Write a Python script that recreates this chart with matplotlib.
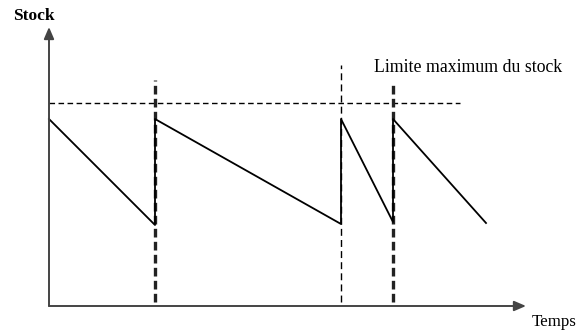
"""Stock sawtooth diagram: stock level over time with a maximum limit."""
import matplotlib
matplotlib.use("Agg")
import matplotlib.pyplot as plt

# restock instants and the stock level before each restock (arbitrary units)
restock_times = [0, 10.6, 29.2, 34.4]
end_time = 43.7
stock_full = 18.7
stock_low = [8.1, 8.2, 8.4, 8.3]

# maximum stock limit
stock_limit = 20.3
limit_end = 41.1

# delivery markers (vertical dashed lines): time, top, heavy?
marker_times = [10.6, 29.2, 34.4]
marker_tops = [22.6, 24.1, 22.5]
marker_heavy = [True, False, True]

# build the sawtooth from the arrays
ends = restock_times[1:] + [end_time]
xs, ys = [], []
for t0, t1, low in zip(restock_times, ends, stock_low):
    xs += [t0, t1]
    ys += [stock_full, low]

fig = plt.figure(figsize=(5.78, 3.34), dpi=100)
ax = fig.add_axes([0, 0, 1, 1])
ax.set_xlim(-4.9, 52.9)
ax.set_ylim(-2.8, 30.6)
ax.axis("off")

serif = ["Liberation Serif", "DejaVu Serif"]

# axes with arrows
arrow = dict(arrowstyle="-|>,head_length=0.7,head_width=0.3", color="#444444",
             lw=1.4, shrinkA=0, shrinkB=0)
ax.annotate("", xy=(47.7, 0), xytext=(0, 0), arrowprops=arrow)
ax.annotate("", xy=(0, 27.9), xytext=(0, 0), arrowprops=arrow)

# limit line
ax.plot([0, limit_end], [stock_limit, stock_limit], color="black", lw=1.0,
        dashes=(4, 2.5))

# delivery markers
for t, top, heavy in zip(marker_times, marker_tops, marker_heavy):
    if heavy:
        ax.plot([t, t], [0.4, top], color="#222222", lw=2.4, dashes=(2.6, 1.3))
    else:
        ax.plot([t, t], [0.4, top], color="black", lw=1.0, dashes=(5, 3))

# stock level
ax.plot(xs, ys, color="black", lw=1.3)

ax.text(-3.6, 29.0, "Stock", fontsize=12.5, family=serif, fontweight="bold",
        ha="left", va="center")
ax.text(52.8, -1.6, "Temps", fontsize=12.2, family=serif, ha="right", va="center")
ax.text(32.5, 23.9, "Limite maximum du stock", fontsize=12.8, family=serif,
        ha="left", va="center")

fig.savefig("out.png", dpi=100)
